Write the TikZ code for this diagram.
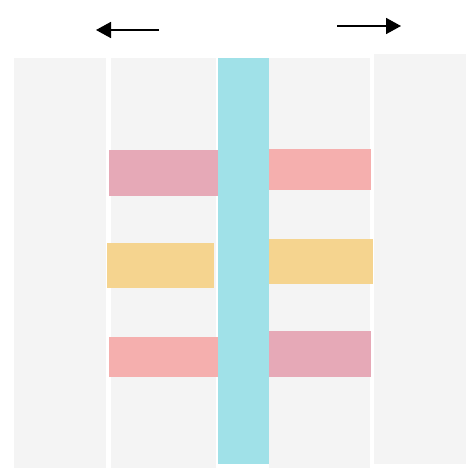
\documentclass[tikz,border=0pt]{standalone}
\usetikzlibrary{arrows.meta}
\definecolor{panelgray}{HTML}{F4F4F4}
\definecolor{cyanbar}{HTML}{A0E1E8}
\definecolor{pinkbar}{HTML}{E6A9B7}
\definecolor{salmonbar}{HTML}{F5AFAE}
\definecolor{yellowbar}{HTML}{F5D48F}
\tikzset{
  panel/.style={fill=panelgray},
  pinkb/.style={fill=pinkbar},
  salmonb/.style={fill=salmonbar},
  yellowb/.style={fill=yellowbar},
  cyanb/.style={fill=cyanbar},
  dirarrow/.style={line width=1.8pt,-{Triangle[length=15pt,width=16pt]}}
}
\begin{document}
\begin{tikzpicture}[x=1pt,y=-1pt]
\useasboundingbox (0,0) rectangle (474,468);
% panels
\fill[panel] (14,58) rectangle (106,468);
\fill[panel] (111,58) rectangle (216,468);
\fill[panel] (269,58) rectangle (370,468);
\fill[panel] (374,54) rectangle (466,464);
% bars
\fill[pinkb] (109,150) rectangle (218,196);
\fill[salmonb] (268,149) rectangle (371,190);
\fill[yellowb] (107,243) rectangle (214,288);
\fill[yellowb] (268,239) rectangle (373,284);
\fill[salmonb] (109,337) rectangle (218,377);
\fill[pinkb] (268,331) rectangle (371,377);
% cyan column
\fill[cyanb] (218,58) rectangle (269,464);
% arrows
\coordinate (la1) at (159,30);
\coordinate (la2) at (96,30);
\coordinate (ra1) at (337,26);
\coordinate (ra2) at (401,26);
\draw[dirarrow] (la1) -- (la2);
\draw[dirarrow] (ra1) -- (ra2);
\end{tikzpicture}
\end{document}
